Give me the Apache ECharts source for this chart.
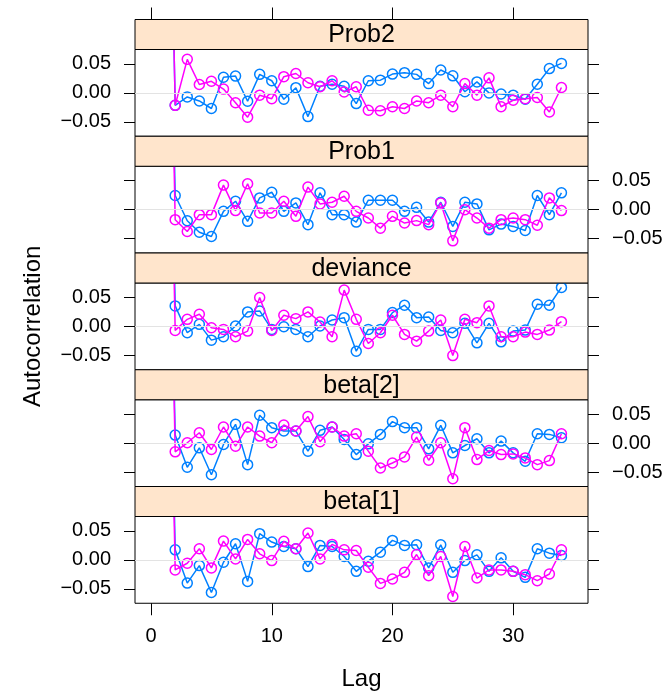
<!DOCTYPE html>
<html><head><meta charset="utf-8">
<script src="https://cdn.jsdelivr.net/npm/echarts@6/dist/echarts.min.js"></script>
<style>html,body{margin:0;padding:0;background:#fff}#c{width:670px;height:698px}</style>
</head><body><div id="c"></div>
<script>
// ---- data ----
const lags = [1,2,3,4,5,6,7,8,9,10,11,12,13,14,15,16,17,18,19,20,21,22,23,24,25,26,27,28,29,30,31,32,33,34];
const panelNames = ['Prob2','Prob1','deviance','beta[2]','beta[1]'];
const prob2Chain1 = [1,-0.0215,-0.007,-0.014,-0.027,0.027,0.029,-0.0145,0.032,0.021,-0.011,0.009,-0.041,0.0115,0.015,0.0115,-0.0185,0.021,0.022,0.0325,0.035,0.032,0.016,0.0395,0.0295,0.002,0.019,0.0,-0.002,-0.004,-0.011,0.015,0.042,0.051];
const prob2Chain2 = [1,-0.0215,0.058,0.0145,0.02,0.0065,-0.017,-0.042,-0.004,-0.01,0.028,0.0335,0.0175,0.0105,0.021,0.0015,0.0105,-0.03,-0.031,-0.024,-0.027,-0.014,-0.017,-0.004,-0.024,0.016,-0.004,0.026,-0.024,-0.0128,-0.01,-0.008,-0.033,0.0093];
const prob1Chain1 = [1,0.0244,-0.0192,-0.039,-0.0465,-0.003,0.0145,-0.0203,0.0203,0.030,-0.003,0.0116,-0.026,0.029,-0.0087,-0.0087,-0.0215,0.0163,0.0163,0.0163,-0.003,0.004,-0.0215,0.0128,-0.029,0.0128,0.0099,-0.035,-0.025,-0.029,-0.036,0.0244,-0.0087,0.029];
const prob1Chain2 = [1,-0.0174,-0.0378,-0.0087,-0.0087,0.0424,-0.0017,0.0447,-0.0058,-0.0058,0.0145,-0.0116,0.039,0.0099,0.0128,0.0232,-0.003,-0.0145,-0.032,-0.0116,-0.0232,-0.019,-0.026,0.0116,-0.054,0,-0.0145,-0.032,-0.0174,-0.0145,-0.0174,-0.027,0.0203,-0.0017];
const devianceChain1 = [1,0.0354,-0.011,0.0035,-0.0238,-0.018,0.0006,0.025,0.0267,-0.0052,-0.0006,-0.0052,-0.018,0.0006,0.011,0.0151,-0.043,-0.0052,-0.0052,0.0238,0.0366,0.0151,0.0163,-0.007,-0.011,0.0052,-0.0285,0.0052,-0.0267,-0.0081,-0.0064,0.0383,0.0366,0.0674];
const devianceChain2 = [1,-0.007,0.0122,0.0209,-0.0023,-0.0052,-0.018,-0.0081,0.05,-0.007,0.0192,0.0134,0.025,0.0076,-0.018,0.0627,0.0122,-0.0296,-0.011,0.0192,-0.0139,-0.0256,-0.0081,0.011,-0.0505,0.0122,0.0064,0.0354,-0.018,-0.018,-0.0099,-0.0139,-0.0064,0.0081];
const beta2Chain1 = [1,0.0139,-0.0418,-0.0081,-0.0546,-0.0023,0.0325,-0.0372,0.0482,0.0267,0.0209,0.0209,-0.0139,0.0221,0.0279,0.0064,-0.0198,-0.0012,0.0151,0.0372,0.0267,0.0267,-0.0099,0.0308,-0.0168,-0.0041,0.0076,-0.0168,0.0035,-0.0168,-0.0314,0.0163,0.0151,0.0093];
const beta2Chain2 = [1,-0.0151,0.0006,0.018,-0.011,0.0279,-0.0052,0.0279,0.0122,0.0006,0.0314,0.0209,0.0459,0.0023,0.0279,0.0122,0.0163,-0.0139,-0.043,-0.0343,-0.0238,0.0105,-0.0296,0.0006,-0.0616,0.0267,-0.0285,-0.0128,-0.0198,-0.0186,-0.0256,-0.0372,-0.0302,0.0163];
const beta1Chain1 = [1,0.0174,-0.0401,-0.0099,-0.0564,-0.0041,0.0279,-0.0372,0.0453,0.0308,0.0232,0.0192,-0.0116,0.025,0.0232,0.0058,-0.0198,-0.0023,0.0134,0.0337,0.025,0.0261,-0.0139,0.0261,-0.0215,-0.0012,0.0087,-0.0198,0.0035,-0.0198,-0.0302,0.0192,0.0116,0.0076];
const beta1Chain2 = [1,-0.0174,-0.0058,0.0192,-0.0139,0.0325,0.0017,0.0354,0.0105,-0.0012,0.032,0.0192,0.0465,0.0017,0.0267,0.0174,0.0163,-0.0128,-0.0407,-0.0331,-0.0215,0.0093,-0.0273,0.0058,-0.0633,0.0232,-0.0314,-0.0174,-0.0174,-0.0198,-0.0256,-0.036,-0.0244,0.0174];
const xTicks = [0,10,20,30];
const yTicks = [-0.05,0,0.05];

const panelChains = [
  [prob2Chain1, prob2Chain2],
  [prob1Chain1, prob1Chain2],
  [devianceChain1, devianceChain2],
  [beta2Chain1, beta2Chain2],
  [beta1Chain1, beta1Chain2]
];
const chainColors = ['#0080ff', '#ff00ff'];

// ---- layout ----
const FONT = '"Liberation Sans", Arial, Helvetica, sans-serif';
const LEFT = 135, RIGHT = 82, TOP0 = 19.5, STRIP = 30, PANEL = 86.75, BLOCK = 116.75;
const XMIN = -1.33, XMAX = 36.2, YMIN = -0.075, YMAX = 0.075;
const W = 670;

const fmtY = v => { const s = Math.abs(v).toFixed(2); return v < -1e-9 ? '\u2212' + s : s; };
const tickStyle = {color: '#000', width: 1};

const grids = [], xAxes = [], yAxesL = [], yAxesR = [], series = [], graphics = [];
panelNames.forEach((name, i) => {
  const top = TOP0 + i * BLOCK + STRIP;
  grids.push({left: LEFT, right: RIGHT, top: top, height: PANEL, show: true,
    borderColor: '#000', borderWidth: 1, backgroundColor: 'transparent'});
  const last = i === panelNames.length - 1;
  xAxes.push({gridIndex: i, type: 'value', min: XMIN, max: XMAX, position: 'bottom',
    show: last,
    axisLine: {show: false, onZero: false}, splitLine: {show: false},
    axisTick: {show: true, length: 12, customValues: xTicks, lineStyle: tickStyle},
    axisLabel: {show: true, customValues: xTicks, fontSize: 20, color: '#000', margin: 23, fontFamily: FONT},
    name: last ? 'Lag' : '', nameLocation: 'middle', nameGap: 64,
    nameTextStyle: {fontSize: 24, color: '#000', fontFamily: FONT}
  });
  yAxesL.push({gridIndex: i, type: 'value', min: YMIN, max: YMAX, position: 'left',
    axisLine: {show: false, onZero: false}, splitLine: {show: false},
    axisTick: {show: true, length: 11, customValues: yTicks, lineStyle: tickStyle},
    axisLabel: {show: i % 2 === 0, customValues: yTicks, formatter: fmtY, fontSize: 20, color: '#000', margin: 24, fontFamily: FONT},
    name: i === 2 ? 'Autocorrelation' : '', nameLocation: 'middle', nameGap: 90,
    nameTextStyle: {fontSize: 24, color: '#000', fontFamily: FONT}
  });
  yAxesR.push({gridIndex: i, type: 'value', min: YMIN, max: YMAX, position: 'right',
    axisLine: {show: false, onZero: false}, splitLine: {show: false},
    axisTick: {show: true, length: 11, customValues: yTicks, lineStyle: tickStyle},
    axisLabel: {show: i % 2 === 1, customValues: yTicks, formatter: fmtY, fontSize: 20, color: '#000', margin: 24, fontFamily: FONT}
  });
  // reference line at 0
  series.push({type: 'line', xAxisIndex: i, yAxisIndex: i, data: [], silent: true, z: 1,
    markLine: {symbol: 'none', silent: true, animation: false, label: {show: false},
      lineStyle: {color: '#e3e3e3', width: 1, type: 'solid'}, data: [{yAxis: 0}]}});
  panelChains[i].forEach((vals, c) => {
    series.push({type: 'line', xAxisIndex: i, yAxisIndex: i, z: 2 + c, clip: true,
      data: lags.map((l, k) => [l, vals[k]]),
      symbol: 'circle', symbolSize: 10, showAllSymbol: true,
      itemStyle: {color: 'rgba(0,0,0,0)', borderColor: chainColors[c], borderWidth: 1.5},
      lineStyle: {color: chainColors[c], width: 1.5},
      emphasis: {disabled: true}, animation: false});
  });
  // strip
  graphics.push({type: 'rect', z: 100,
    shape: {x: LEFT, y: TOP0 + i * BLOCK, width: W - LEFT - RIGHT, height: STRIP},
    style: {fill: '#ffe5cc', stroke: '#000', lineWidth: 1}});
  graphics.push({type: 'text', z: 101,
    x: LEFT + (W - LEFT - RIGHT) / 2, y: TOP0 + i * BLOCK + STRIP / 2 + 1,
    style: {text: name, font: '25px ' + FONT, fill: '#000', textAlign: 'center', textVerticalAlign: 'middle', verticalAlign: 'middle'}});
});
// top tick marks above the first strip
xAxes.push({gridIndex: 0, type: 'value', min: XMIN, max: XMAX, position: 'top', offset: STRIP,
  axisLine: {show: false, onZero: false}, splitLine: {show: false},
  axisTick: {show: true, length: 12, customValues: xTicks, lineStyle: tickStyle},
  axisLabel: {show: false}});

const chart = echarts.init(document.getElementById('c'), null, {renderer: 'canvas'});
chart.setOption({
  animation: false,
  backgroundColor: '#fff',
  grid: grids,
  xAxis: xAxes,
  yAxis: yAxesL.concat(yAxesR),
  series: series,
  graphic: graphics
});
</script>
</body></html>
